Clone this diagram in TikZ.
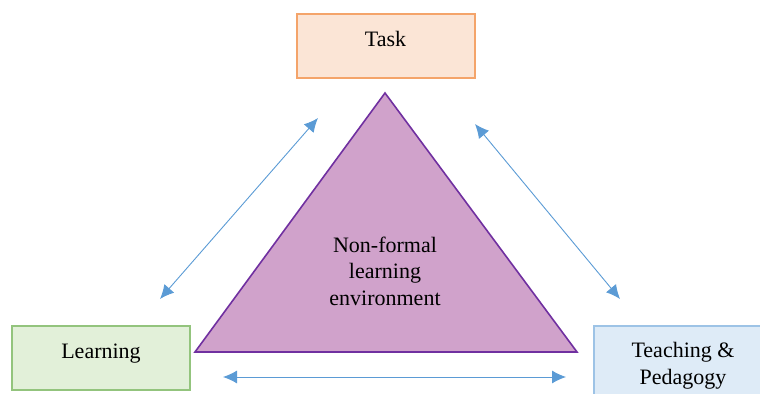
\documentclass[tikz,border=0pt]{standalone}
\usepackage{fontspec}
\setmainfont{Liberation Serif}
\usetikzlibrary{arrows.meta}
\definecolor{tareafill}{HTML}{FBE5D6}
\definecolor{tareadraw}{HTML}{F4A46A}
\definecolor{aprfill}{HTML}{E2F0D9}
\definecolor{aprdraw}{HTML}{93C47D}
\definecolor{ensfill}{HTML}{DEEBF7}
\definecolor{ensdraw}{HTML}{9DC3E6}
\definecolor{trifill}{HTML}{D0A2CB}
\definecolor{tridraw}{HTML}{7030A0}
\definecolor{flecha}{HTML}{5B9BD5}
\tikzset{
	caja/.style={draw, line width=1pt, minimum width=89pt, minimum height=32pt, text height=8pt, text depth=7pt, font=\fontsize{11}{13.4}\selectfont},
	doble/.style={flecha, line width=0.45pt, {Latex[length=7pt,width=6.5pt]}-{Latex[length=7pt,width=6.5pt]}}
}
\begin{document}
\begin{tikzpicture}[x=0.5pt, y=-0.5pt]
	\useasboundingbox (0,0) rectangle (760,394);
	% Cajas
		\node[caja, fill=tareafill, draw=tareadraw] (tarea) at (385.5,46) {Task};
		\node[caja, fill=aprfill, draw=aprdraw] (aprendizaje) at (101,358) {Learning};
		\node[caja, fill=ensfill, draw=ensdraw, minimum height=40pt, text height=, text depth=, align=center] (ensenanza) at (683,366) {Teaching \&\\Pedagogy};

	% Triángulo
		\coordinate (vsup) at (385,93);
		\coordinate (vizq) at (195,352);
		\coordinate (vder) at (577,352);
		\draw[tridraw, fill=trifill, line width=0.8pt] (vsup) -- (vder) -- (vizq) -- cycle;
		\node[align=center, font=\fontsize{11}{13.3}\selectfont] (entorno) at (385,271) {Non-formal\\learning\\environment};

	% Flechas
		\coordinate (a1) at (160,299);
		\coordinate (a2) at (318,118);
		\coordinate (b1) at (475,124);
		\coordinate (b2) at (620,299);
		\coordinate (c1) at (223,377);
		\coordinate (c2) at (566,377);
		\draw[doble] (a1) -- (a2);
		\draw[doble] (b1) -- (b2);
		\draw[doble] (c1) -- (c2);
\end{tikzpicture}
\end{document}
